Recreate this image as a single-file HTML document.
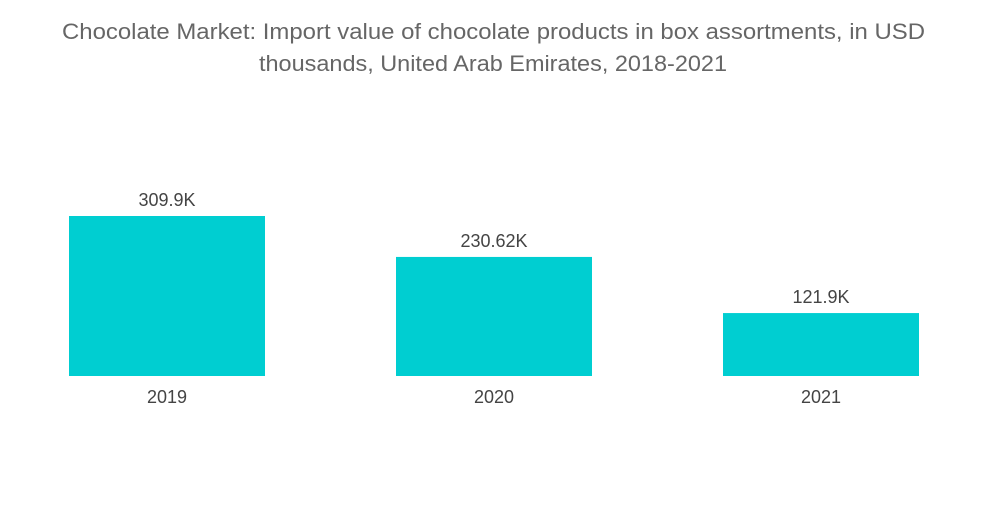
<!DOCTYPE html>
<html><head><meta charset="utf-8"><style>
body{margin:0;background:#fff;width:1000px;height:504px;overflow:hidden;font-family:"Liberation Sans",sans-serif}
</style></head><body>
<svg width="1000" height="504">
<text x="62" y="39" font-size="22" fill="#666" textLength="863" lengthAdjust="spacingAndGlyphs">Chocolate Market: Import value of chocolate products in box assortments, in USD</text>
<text x="259" y="71" font-size="22" fill="#666" textLength="468" lengthAdjust="spacingAndGlyphs">thousands, United Arab Emirates, 2018-2021</text>
<g id="bars"></g>
</svg>
<script>
const categories=["2019","2020","2021"];
const values=[309.9,230.62,121.9];
const valueLabels=["309.9K","230.62K","121.9K"];
const baseY=376, pxPerUnit=160/309.9;
const xLeft=i=>69+i*327, barW=196;
const y=v=>baseY-v*pxPerUnit;
const g=document.getElementById('bars');
const NS="http://www.w3.org/2000/svg";
values.forEach((v,i)=>{
  const r=document.createElementNS(NS,'rect');
  r.setAttribute('x',xLeft(i));r.setAttribute('y',y(v));
  r.setAttribute('width',barW);r.setAttribute('height',baseY-y(v));
  r.setAttribute('fill','#00CED1');
  
  
  g.appendChild(r);
  const t=document.createElementNS(NS,'text');
  t.setAttribute('x',xLeft(i)+barW/2);t.setAttribute('y',y(v)-10);
  t.setAttribute('text-anchor','middle');t.setAttribute('font-size','18');t.setAttribute('fill','#444');
  t.textContent=valueLabels[i];
  
  
  g.appendChild(t);
  const c=document.createElementNS(NS,'text');
  c.setAttribute('x',xLeft(i)+barW/2);c.setAttribute('y',403);
  c.setAttribute('text-anchor','middle');c.setAttribute('font-size','18');c.setAttribute('fill','#444');
  c.textContent=categories[i];
  
  
  g.appendChild(c);
});
</script>
</body></html>
